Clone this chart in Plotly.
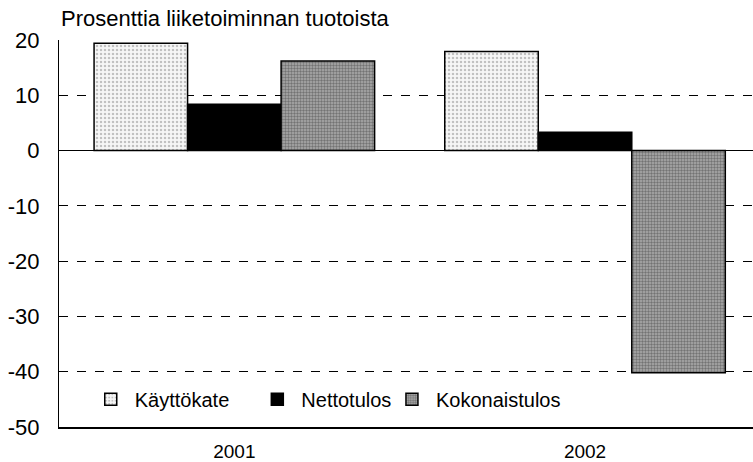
import plotly.graph_objects as go

# Share of operating revenue, per cent
years = ["2001", "2002"]
kayttokate = [19.4, 17.9]
nettotulos = [8.4, 3.3]
kokonaistulos = [16.2, -40.2]

y_ticks = [20, 10, 0, -10, -20, -30, -40, -50]

FONT = "Liberation Sans, Arial, sans-serif"

fig = go.Figure()
fig.add_trace(go.Bar(
    name="Käyttökate", x=years, y=kayttokate, legend="legend",
    marker=dict(color="white", line=dict(color="black", width=1.5),
                pattern=dict(shape=".", fgcolor="#8c8c8c", bgcolor="#f6f6f6",
                             size=4, solidity=0.3)),
))
fig.add_trace(go.Bar(
    name="Nettotulos", x=years, y=nettotulos, legend="legend2",
    marker=dict(color="black", line=dict(color="black", width=1.5)),
))
fig.add_trace(go.Bar(
    name="Kokonaistulos", x=years, y=kokonaistulos, legend="legend3",
    marker=dict(color="#9a9a9a", line=dict(color="black", width=1.5),
                pattern=dict(shape=".", fgcolor="#3c3c3c", bgcolor="#ababab",
                             size=3, solidity=0.5)),
))

def legend_box(x):
    return dict(orientation="h", x=x, y=0.072, xanchor="left", yanchor="middle",
                bgcolor="rgba(0,0,0,0)", font=dict(size=20, family=FONT),
                itemwidth=38)

fig.update_layout(
    width=753, height=462,
    margin=dict(l=59, r=0, t=40, b=32),
    paper_bgcolor="white", plot_bgcolor="white",
    barmode="group", bargap=0.2, bargroupgap=0,
    font=dict(family=FONT, color="black", size=20),
    showlegend=True,
    legend=legend_box(0.040),
    legend2=legend_box(0.280),
    legend3=legend_box(0.474),
    annotations=[dict(
        text="Prosenttia liiketoiminnan tuotoista", xref="paper", yref="paper",
        x=0, y=1, xanchor="left", yanchor="bottom", yshift=7, showarrow=False,
        font=dict(size=22, family=FONT, color="black"),
    )],
)

fig.update_xaxes(
    type="category", range=[-0.5, 1.479],
    showline=True, linecolor="black", linewidth=1.5,
    showgrid=False, ticks="", tickfont=dict(size=19), ticklabelstandoff=6,
)
fig.update_yaxes(
    range=[-50, 20], tickvals=y_ticks, ticktext=[str(v) for v in y_ticks],
    showline=True, linecolor="black", linewidth=1,
    showgrid=True, gridcolor="black", gridwidth=1, griddash="dash",
    zeroline=True, zerolinecolor="black", zerolinewidth=1.2,
    ticks="", tickfont=dict(size=22), ticklabelstandoff=14,
)

fig.write_html("out.html")
